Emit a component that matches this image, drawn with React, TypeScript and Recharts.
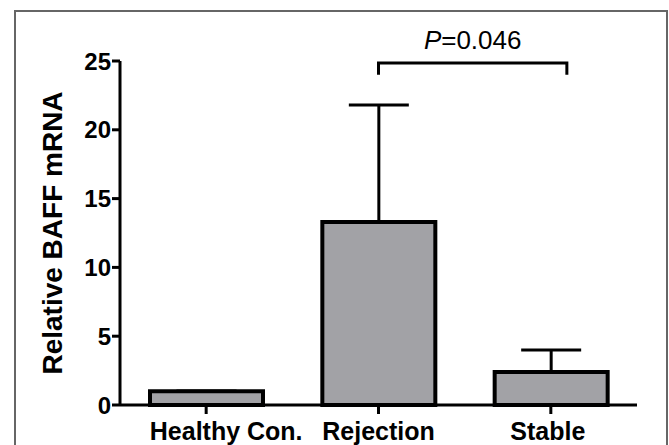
import { BarChart, Bar, XAxis, YAxis, ErrorBar, ReferenceLine } from 'recharts';

const categories = ['Healthy Con.', 'Rejection', 'Stable'];
const means = [1.0, 13.3, 2.4];
const upperErr = [0, 8.5, 1.6];
const yTicks = [0, 5, 10, 15, 20, 25];
// the first label sits a little right of its tick in the original
const labelShift = [20, 0, -3];

// significance bracket between Rejection and Stable
const bracketFrom = 'Rejection';
const bracketTo = 'Stable';
const bracketTop = 24.85;
const bracketFoot = 24.0;
const bracketOvershoot = 0.093; // right foot sits a bit past the Stable centre
const pLabel = '0.046';

const data = categories.map((name, i) => ({
  name,
  value: means[i],
  err: [0, upperErr[i]],
}));

const sans = '"Liberation Sans", Arial, Helvetica, sans-serif';

function CategoryTick(props: any) {
  const { x, y, payload, index } = props;
  return (
    <text
      x={x + (labelShift[index] || 0)}
      y={y + 6}
      dy="0.71em"
      textAnchor="middle"
      fontFamily={sans}
      fontWeight="bold"
      fontSize={25}
      fill="#000"
    >
      {payload.value}
    </text>
  );
}

// segment runs from (from, foot) to (to, top); draw the whole bracket and its label
function Bracket(props: any) {
  const { x1, y1, x2, y2 } = props;
  const xl = x1;
  const xr = x2 + (x2 - x1) * bracketOvershoot;
  const top = Math.min(y1, y2);
  const foot = Math.max(y1, y2);
  return (
    <g>
      <path
        d={`M${xl},${foot}L${xl},${top}L${xr},${top}L${xr},${foot}`}
        fill="none"
        stroke="#000"
        strokeWidth={3}
      />
      <text x={(xl + xr) / 2} y={top - 14} textAnchor="middle" fontFamily={sans} fontSize={26} fill="#000">
        <tspan fontStyle="italic">P</tspan>={pLabel}
      </text>
    </g>
  );
}

export default function App() {
  return (
    <div
      style={{
        position: 'absolute',
        left: 0,
        top: 0,
        width: 669,
        height: 445,
        overflow: 'hidden',
        background: '#fff',
      }}
    >
      <div style={{ position: 'absolute', left: 0, top: 0 }}>
        <BarChart
          width={669}
          height={445}
          data={data}
          margin={{ top: 61, right: 32, bottom: 0, left: 60 }}
        >
          <XAxis
            dataKey="name"
            axisLine={{ stroke: '#000', strokeWidth: 3 }}
            tickLine={{ stroke: '#000', strokeWidth: 3 }}
            tickSize={9}
            height={40}
            interval={0}
            tick={<CategoryTick />}
          />
          <YAxis
            domain={[0, 25]}
            ticks={yTicks}
            width={60}
            axisLine={{ stroke: '#000', strokeWidth: 3 }}
            tickLine={{ stroke: '#000', strokeWidth: 3 }}
            tickSize={8}
            tick={{ fill: '#000', fontFamily: sans, fontWeight: 'bold', fontSize: 24, dx: 1 }}
            label={{
              value: 'Relative BAFF mRNA',
              angle: -90,
              position: 'insideLeft',
              offset: -8,
              style: { textAnchor: 'middle', fill: '#000', fontFamily: sans, fontWeight: 'bold', fontSize: 28 },
            }}
          />
          <Bar
            dataKey="value"
            fill="#a2a2a6"
            stroke="#000"
            strokeWidth={4}
            barSize={113}
            isAnimationActive={false}
          >
            <ErrorBar dataKey="err" direction="y" width={30} stroke="#000" strokeWidth={3} isAnimationActive={false} />
          </Bar>
          <ReferenceLine
            ifOverflow="visible"
            segment={[
              { x: bracketFrom, y: bracketFoot },
              { x: bracketTo, y: bracketTop },
            ]}
            shape={(p: any) => <Bracket {...p} />}
          />
        </BarChart>
      </div>
      {/* outer frame */}
      <div
        style={{
          position: 'absolute',
          left: 14,
          top: 10,
          width: 654,
          height: 460,
          border: '2px solid #666',
          boxSizing: 'border-box',
          pointerEvents: 'none',
        }}
      />
    </div>
  );
}
